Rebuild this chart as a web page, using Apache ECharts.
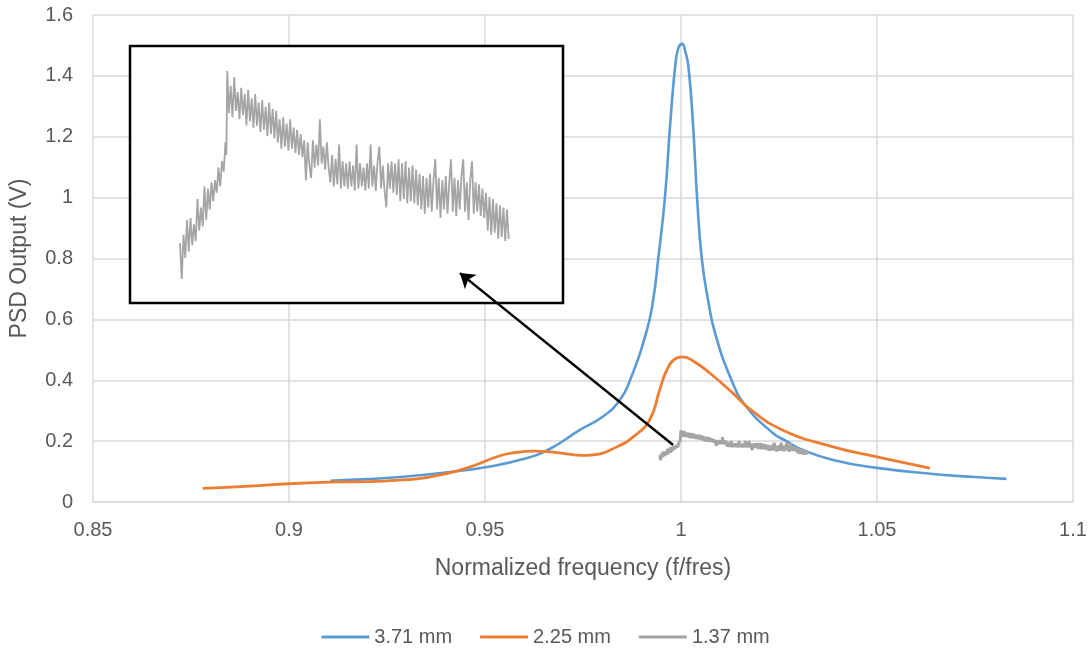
<!DOCTYPE html>
<html>
<head>
<meta charset="utf-8">
<script src="https://cdn.jsdelivr.net/npm/echarts@6/dist/echarts.min.js"></script>
<style>
  html, body { margin: 0; padding: 0; background: #fff; }
  #chart { width: 1091px; height: 649px; }
</style>
</head>
<body>
<div id="chart"></div>
<script>
// Resonance response of the PSD for three gap sizes, frequency normalised to f_res.
const seriesNames = ['3.71 mm', '2.25 mm', '1.37 mm'];

// 3.71 mm : [f/fres, PSD output (V)]
const psd371 = [
  [0.9105, 0.070], [0.9200, 0.075], [0.9283, 0.082], [0.9400, 0.097], [0.9505, 0.115],
  [0.9600, 0.142], [0.9666, 0.175], [0.9742, 0.237], [0.9800, 0.280], [0.9844, 0.335],
  [0.9870, 0.400], [0.9912, 0.560], [0.9929, 0.664], [0.9942, 0.800], [0.9959, 1.000],
  [0.9972, 1.233], [0.9985, 1.430], [0.9993, 1.490], [1.0003, 1.505], [1.0011, 1.480],
  [1.0019, 1.430], [1.0031, 1.233], [1.0041, 1.000], [1.0053, 0.800], [1.0069, 0.664],
  [1.0087, 0.555], [1.0129, 0.400], [1.0167, 0.313], [1.0235, 0.226], [1.0269, 0.200],
  [1.0303, 0.175], [1.0388, 0.138], [1.0500, 0.112], [1.0643, 0.092], [1.0750, 0.082],
  [1.0830, 0.076]
];

// 2.25 mm
const psd225 = [
  [0.8780, 0.045], [0.8900, 0.052], [0.9000, 0.060], [0.9100, 0.065], [0.9200, 0.067],
  [0.9280, 0.072], [0.9350, 0.080], [0.9454, 0.112], [0.9538, 0.152], [0.9580, 0.163],
  [0.9625, 0.167], [0.9666, 0.165], [0.9708, 0.158], [0.9745, 0.153], [0.9776, 0.155],
  [0.9836, 0.181], [0.9878, 0.214], [0.9920, 0.270], [0.9946, 0.370], [0.9964, 0.434],
  [0.9985, 0.470], [1.0005, 0.477], [1.0035, 0.460], [1.0074, 0.423], [1.0133, 0.357],
  [1.0176, 0.305], [1.0260, 0.236], [1.0388, 0.181], [1.0500, 0.148], [1.0635, 0.111]
];

// 1.37 mm (noisy trace)
const psd137 = [
  [0.9946, 0.154], [0.9948, 0.137], [0.9950, 0.158], [0.9952, 0.147], [0.9954, 0.165],
  [0.9956, 0.150], [0.9958, 0.166], [0.9960, 0.153], [0.9962, 0.163], [0.9964, 0.155],
  [0.9966, 0.175], [0.9968, 0.160], [0.9970, 0.171], [0.9972, 0.162], [0.9974, 0.181],
  [0.9976, 0.165], [0.9978, 0.180], [0.9980, 0.170], [0.9982, 0.183], [0.9984, 0.174],
  [0.9986, 0.184], [0.9988, 0.178], [0.9990, 0.190], [0.9992, 0.181], [0.9994, 0.193],
  [0.9996, 0.188], [0.9998, 0.202], [0.9999, 0.196],
  [1.0000, 0.236], [1.0002, 0.216], [1.0004, 0.229], [1.0006, 0.214], [1.0008, 0.233],
  [1.0010, 0.217], [1.0012, 0.226], [1.0014, 0.213], [1.0016, 0.228], [1.0018, 0.215],
  [1.0020, 0.225], [1.0022, 0.210], [1.0024, 0.227], [1.0026, 0.212], [1.0028, 0.223],
  [1.0030, 0.209], [1.0032, 0.225], [1.0034, 0.210], [1.0036, 0.221], [1.0038, 0.207],
  [1.0040, 0.222], [1.0042, 0.208], [1.0044, 0.219], [1.0046, 0.205], [1.0048, 0.221],
  [1.0050, 0.206], [1.0052, 0.218], [1.0054, 0.204], [1.0056, 0.217], [1.0058, 0.202],
  [1.0060, 0.213], [1.0062, 0.199], [1.0064, 0.214], [1.0066, 0.200], [1.0068, 0.211],
  [1.0070, 0.198], [1.0072, 0.213], [1.0074, 0.199], [1.0076, 0.209], [1.0078, 0.197],
  [1.0080, 0.208], [1.0082, 0.196], [1.0084, 0.206], [1.0086, 0.195], [1.0088, 0.203],
  [1.0090, 0.184], [1.0092, 0.202], [1.0094, 0.191], [1.0096, 0.185], [1.0098, 0.203],
  [1.0100, 0.190], [1.0102, 0.201], [1.0104, 0.191], [1.0106, 0.213], [1.0108, 0.192],
  [1.0110, 0.200], [1.0112, 0.189], [1.0114, 0.202], [1.0116, 0.190], [1.0118, 0.183],
  [1.0120, 0.196], [1.0122, 0.181], [1.0124, 0.194], [1.0126, 0.182], [1.0128, 0.201],
  [1.0130, 0.180], [1.0132, 0.193], [1.0134, 0.181], [1.0136, 0.192], [1.0138, 0.180],
  [1.0140, 0.193], [1.0142, 0.181], [1.0144, 0.191], [1.0146, 0.179], [1.0148, 0.201],
  [1.0150, 0.180], [1.0152, 0.192], [1.0154, 0.181], [1.0156, 0.190], [1.0158, 0.179],
  [1.0160, 0.192], [1.0162, 0.180], [1.0164, 0.201], [1.0166, 0.181], [1.0168, 0.191],
  [1.0170, 0.179], [1.0172, 0.193], [1.0174, 0.200], [1.0176, 0.180], [1.0178, 0.191],
  [1.0180, 0.179], [1.0182, 0.171], [1.0184, 0.192], [1.0186, 0.180], [1.0188, 0.193],
  [1.0190, 0.178], [1.0192, 0.192], [1.0194, 0.177], [1.0196, 0.194], [1.0198, 0.174],
  [1.0200, 0.192], [1.0202, 0.175], [1.0204, 0.193], [1.0206, 0.173], [1.0208, 0.190],
  [1.0210, 0.174], [1.0212, 0.191], [1.0214, 0.173], [1.0216, 0.189], [1.0218, 0.172],
  [1.0220, 0.187], [1.0222, 0.170], [1.0224, 0.186], [1.0226, 0.168], [1.0228, 0.185],
  [1.0230, 0.171], [1.0232, 0.187], [1.0234, 0.169], [1.0236, 0.184], [1.0238, 0.194],
  [1.0240, 0.170], [1.0242, 0.185], [1.0244, 0.166], [1.0246, 0.184], [1.0248, 0.170],
  [1.0250, 0.186], [1.0252, 0.168], [1.0254, 0.183], [1.0256, 0.194], [1.0258, 0.169],
  [1.0260, 0.185], [1.0262, 0.167], [1.0264, 0.184], [1.0266, 0.170], [1.0268, 0.186],
  [1.0270, 0.194], [1.0272, 0.169], [1.0274, 0.183], [1.0276, 0.165], [1.0278, 0.184],
  [1.0280, 0.193], [1.0282, 0.168], [1.0284, 0.183], [1.0286, 0.169], [1.0288, 0.182],
  [1.0290, 0.167], [1.0292, 0.180], [1.0294, 0.166], [1.0296, 0.178], [1.0298, 0.160],
  [1.0300, 0.176], [1.0302, 0.158], [1.0304, 0.175], [1.0306, 0.159], [1.0308, 0.173],
  [1.0310, 0.156], [1.0312, 0.172], [1.0314, 0.157], [1.0316, 0.171], [1.0318, 0.155],
  [1.0320, 0.170], [1.0322, 0.156]
];

// Axis ranges
const xRange = { min: 0.85, max: 1.10, step: 0.05 };
const yRange = { min: 0, max: 1.6, step: 0.2 };

// Enlarged view of the 1.37 mm trace: axis window of the detail panel
const detailX = { min: 0.98888, max: 1.03841 };
const detailY = { min: 0.1255, max: 0.2479 };

// Arrow pointing from the 1.37 mm trace to its detail panel
const arrowFrom = [0.9980, 0.187];
const arrowTo = [0.9436, 0.752];

const colors = ['#5B9BD5', '#ED7D31', '#A5A5A5'];
const textColor = '#595959';
const gridColor = '#D9D9D9';
const font = "'Liberation Sans', Arial, sans-serif";

const chart = echarts.init(document.getElementById('chart'), null, { renderer: 'canvas' });

chart.setOption({
  animation: false,
  backgroundColor: '#ffffff',
  textStyle: { fontFamily: font },
  grid: [
    { left: 93, right: 18, top: 15, bottom: 147, outerBoundsMode: 'none' },
    {
      left: 130, top: 46, width: 433, height: 257, outerBoundsMode: 'none',
      show: true, backgroundColor: '#ffffff', borderColor: '#000000', borderWidth: 2.5, z: 3
    }
  ],
  xAxis: [
    {
      type: 'value', gridIndex: 0,
      min: xRange.min, max: xRange.max, interval: xRange.step,
      name: 'Normalized frequency (f/fres)', nameLocation: 'middle', nameGap: 55,
      nameTextStyle: { color: textColor, fontSize: 23, fontFamily: font },
      axisLine: { show: true, lineStyle: { color: gridColor, width: 1.5 } },
      axisTick: { show: false },
      axisLabel: { color: textColor, fontSize: 20, margin: 18, fontFamily: font },
      splitLine: { show: true, lineStyle: { color: gridColor, width: 1.5 } }
    },
    {
      type: 'value', gridIndex: 1, min: detailX.min, max: detailX.max, show: false,
      splitLine: { show: false }
    }
  ],
  yAxis: [
    {
      type: 'value', gridIndex: 0,
      min: yRange.min, max: yRange.max, interval: yRange.step,
      name: 'PSD Output (V)', nameLocation: 'middle', nameGap: 62,
      nameTextStyle: { color: textColor, fontSize: 23, fontFamily: font },
      axisLine: { show: false },
      axisTick: { show: false },
      axisLabel: { color: textColor, fontSize: 20, margin: 20, fontFamily: font },
      splitLine: { show: true, lineStyle: { color: gridColor, width: 1.5 } }
    },
    {
      type: 'value', gridIndex: 1, min: detailY.min, max: detailY.max, show: false,
      splitLine: { show: false }
    }
  ],
  legend: {
    data: seriesNames.map(function (n, i) { return { name: n, itemStyle: { color: colors[i] } }; }),
    icon: 'rect',
    left: 'center', top: 622,
    itemWidth: 48, itemHeight: 3, itemGap: 28,
    textStyle: { color: textColor, fontSize: 20, fontFamily: font }
  },
  series: [
    {
      name: seriesNames[0], type: 'line', data: psd371,
      xAxisIndex: 0, yAxisIndex: 0, symbol: 'none', showSymbol: false,
      smooth: 0.5,
      lineStyle: { color: colors[0], width: 2.6 }, itemStyle: { color: colors[0] }, z: 2
    },
    {
      name: seriesNames[1], type: 'line', data: psd225,
      xAxisIndex: 0, yAxisIndex: 0, symbol: 'none', showSymbol: false,
      smooth: 0.5,
      lineStyle: { color: colors[1], width: 2.8 }, itemStyle: { color: colors[1] }, z: 2
    },
    {
      name: seriesNames[2], type: 'line', data: psd137,
      xAxisIndex: 0, yAxisIndex: 0, symbol: 'none', showSymbol: false,
      lineStyle: { color: colors[2], width: 3 }, itemStyle: { color: colors[2] }, z: 5,
      markLine: {
        silent: true,
        symbol: ['none', 'arrow'],
        symbolSize: 14,
        label: { show: false },
        lineStyle: { color: '#000000', width: 2.5, type: 'solid' },
        emphasis: { disabled: true },
        data: [[{ coord: arrowFrom }, { coord: arrowTo }]]
      }
    },
    {
      name: seriesNames[2] + ' detail', type: 'line', data: psd137,
      xAxisIndex: 1, yAxisIndex: 1, symbol: 'none', showSymbol: false,
      lineStyle: { color: colors[2], width: 1.8 }, itemStyle: { color: colors[2] }, z: 4
    }
  ]
});
</script>
</body>
</html>
